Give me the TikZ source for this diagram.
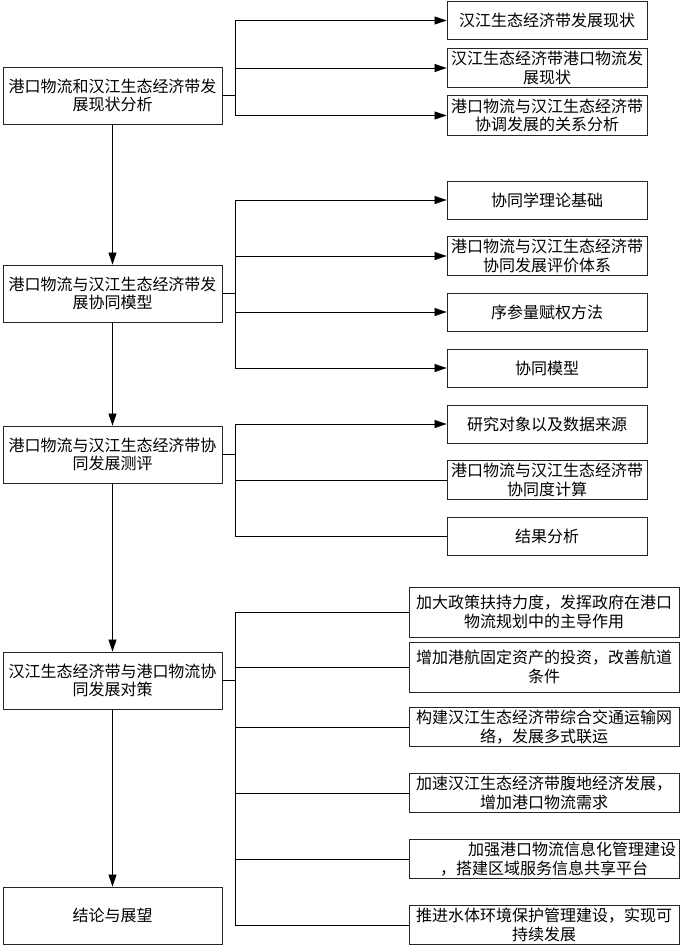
\documentclass[tikz,border=0pt]{standalone}
\usepackage{fontspec}
\setmainfont{Noto Sans CJK SC}
\usepackage{pgf,tikz}
\usetikzlibrary{arrows.meta}
\newcommand{\texto}{\fontsize{16pt}{18.5pt}\selectfont}
\tikzstyle{fase} = [draw=black!85, line width=0.9pt, rectangle, minimum width=219pt, minimum height=57pt, text width=213pt, inner sep=3pt, align=center, font=\texto]
\tikzstyle{tema} = [draw=black!85, line width=0.9pt, rectangle, minimum width=200pt, minimum height=38pt, text width=194pt, inner sep=3pt, align=center, font=\texto]
\tikzstyle{medida} = [tema, minimum width=270pt, text width=264pt]
\tikzstyle{flecha} = [line width=0.8pt, -{Triangle[length=12pt,width=8pt]}]
\tikzstyle{linea} = [line width=0.8pt]

\begin{document}
\begin{tikzpicture}[x=1pt,y=-1pt]
		\useasboundingbox (0,0) rectangle (685,951);
		\node[fase](fase1) at (112.5,95.5) {港口物流和汉江生态经济带发\\展现状分析};
		\node[fase](fase2) at (112.5,293.5) {港口物流与汉江生态经济带发\\展协同模型};
		\node[fase](fase3) at (112.5,454.5) {港口物流与汉江生态经济带协\\同发展测评};
		\node[fase](fase4) at (112.5,680.5) {汉江生态经济带与港口物流协\\同发展对策};
		\node[fase](fase5) at (112.5,915.5) {结论与展望};
		\coordinate (bus) at (235,0);
		
		\node[tema](s11) at (547,20.5) {汉江生态经济带发展现状};
		\node[tema](s12) at (547,68) {汉江生态经济带港口物流发\\展现状};
		\node[tema](s13) at (547,115.5) {港口物流与汉江生态经济带\\协调发展的关系分析};
		
		\node[tema](s21) at (547,200) {协同学理论基础};
		\node[tema](s22) at (547,256) {港口物流与汉江生态经济带\\协同发展评价体系};
		\node[tema](s23) at (547,312) {序参量赋权方法};
		\node[tema](s24) at (547,368) {协同模型};
		
		\node[tema](s31) at (547,424) {研究对象以及数据来源};
		\node[tema](s32) at (547,480) {港口物流与汉江生态经济带\\协同度计算};
		\node[tema](s33) at (547,536) {结果分析};
		
		\node[medida, minimum height=50pt](s41) at (544,612) {加大政策扶持力度，发挥政府在港口\\物流规划中的主导作用};
		\node[medida, minimum height=50pt](s42) at (544,667) {增加港航固定资产的投资，改善航道\\条件};
		\node[medida](s43) at (544,727) {构建汉江生态经济带综合交通运输网\\络，发展多式联运};
		\node[medida](s44) at (544,793) {加速汉江生态经济带腹地经济发展，\\增加港口物流需求};
		\node[medida](s45) at (544,859) {\hspace*{3.5em}加强港口物流信息化管理建设\\，搭建区域服务信息共享平台};
		\node[medida](s46) at (544,925) {推进水体环境保护管理建设，实现可\\持续发展};
		
		\draw[flecha] (fase1) -- (fase2);
		\draw[flecha] (fase2) -- (fase3);
		\draw[flecha] (fase3) -- (fase4);
		\draw[flecha] (fase4) -- (fase5);
		
		\draw[linea] (fase1.east) -- (fase1.east -| bus);
		\draw[linea] (s11.west -| bus) -- (s13.west -| bus);
		\draw[flecha] (s11.west -| bus) -- (s11.west);
		\draw[flecha] (s12.west -| bus) -- (s12.west);
		\draw[flecha] (s13.west -| bus) -- (s13.west);
		
		\draw[linea] (fase2.east) -- (fase2.east -| bus);
		\draw[linea] (s21.west -| bus) -- (s24.west -| bus);
		\draw[flecha] (s21.west -| bus) -- (s21.west);
		\draw[flecha] (s22.west -| bus) -- (s22.west);
		\draw[flecha] (s23.west -| bus) -- (s23.west);
		\draw[flecha] (s24.west -| bus) -- (s24.west);
		
		\draw[linea] (fase3.east) -- (fase3.east -| bus);
		\draw[linea] (s31.west -| bus) -- (s33.west -| bus);
		\draw[flecha] (s31.west -| bus) -- (s31.west);
		\draw[linea] (s32.west -| bus) -- (s32.west);
		\draw[linea] (s33.west -| bus) -- (s33.west);
		
		\draw[linea] (fase4.east) -- (fase4.east -| bus);
		\draw[linea] (s41.west -| bus) -- (s46.west -| bus);
		\draw[linea] (s41.west -| bus) -- (s41.west);
		\draw[linea] (s42.west -| bus) -- (s42.west);
		\draw[linea] (s43.west -| bus) -- (s43.west);
		\draw[linea] (s44.west -| bus) -- (s44.west);
		\draw[linea] (s45.west -| bus) -- (s45.west);
		\draw[linea] (s46.west -| bus) -- (s46.west);
	\end{tikzpicture}
\end{document}
